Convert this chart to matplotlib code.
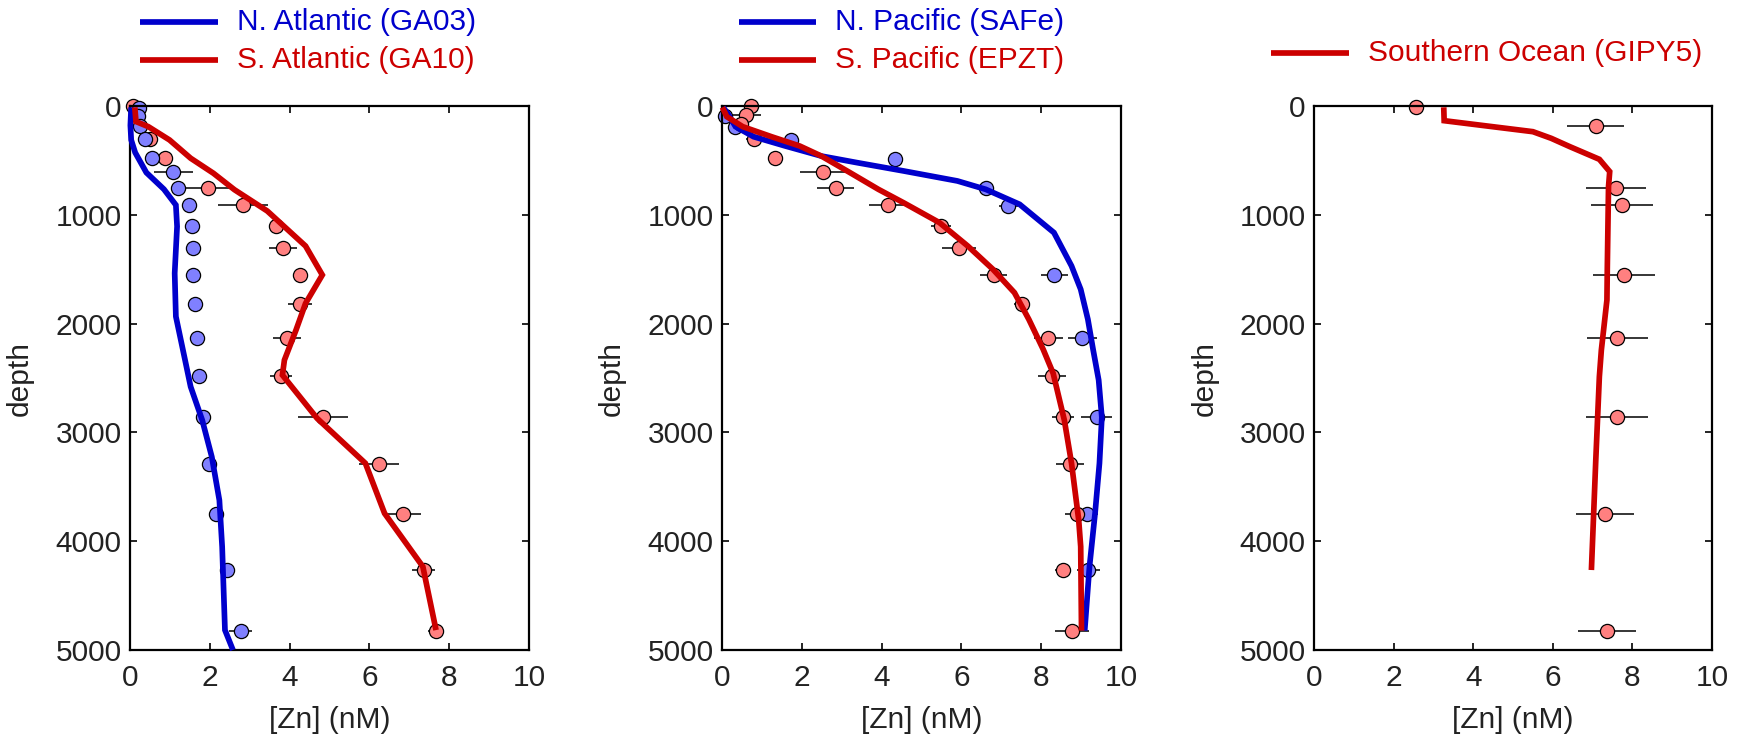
import numpy as np
import matplotlib
matplotlib.use("Agg")
import matplotlib.pyplot as plt
from matplotlib.lines import Line2D

plt.rcParams['font.family'] = ['Liberation Sans', 'DejaVu Sans']
plt.rcParams['font.size'] = 21.5

## Data
# N. Atlantic (GA03)
na_obs_depth = [20, 95, 180, 305, 480, 610, 750, 910, 1100, 1308, 1553, 1823, 2135, 2478, 2861, 3290, 3753, 4265, 4822]
na_obs_zn = [0.22, 0.21, 0.25, 0.37, 0.55, 1.09, 1.20, 1.49, 1.55, 1.57, 1.57, 1.64, 1.69, 1.74, 1.84, 1.98, 2.16, 2.44, 2.77]
na_obs_err = [0.05, 0.05, 0.05, 0.05, 0.05, 0.48, 0.05, 0.05, 0.05, 0.05, 0.05, 0.05, 0.05, 0.05, 0.05, 0.05, 0.05, 0.05, 0.3]
na_mod_depth = [12, 178, 312, 428, 612, 765, 910, 1107, 1537, 1935, 2335, 2580, 2887, 3224, 3623, 4052, 4817, 5000]
na_mod_zn = [0.03, 0.01, 0.03, 0.13, 0.41, 0.85, 1.15, 1.18, 1.12, 1.15, 1.38, 1.52, 1.81, 2.05, 2.24, 2.31, 2.38, 2.58]

# S. Atlantic (GA10)
sa_obs_depth = [0, 305, 480, 750, 910, 1100, 1308, 1553, 1823, 2135, 2478, 2861, 3290, 3753, 4265, 4822]
sa_obs_zn = [0.08, 0.50, 0.87, 1.95, 2.83, 3.66, 3.84, 4.26, 4.26, 3.94, 3.79, 4.83, 6.24, 6.85, 7.36, 7.67]
sa_obs_err = [0.05, 0.1, 0.1, 0.65, 0.62, 0.1, 0.35, 0.1, 0.31, 0.35, 0.27, 0.63, 0.51, 0.44, 0.29, 0.2]
sa_mod_depth = [12, 143, 190, 312, 480, 618, 770, 965, 1287, 1553, 1814, 2060, 2335, 2473, 2871, 3284, 3744, 4234, 4817]
sa_mod_zn = [0.12, 0.15, 0.46, 0.99, 1.52, 2.09, 2.62, 3.44, 4.40, 4.82, 4.40, 4.16, 3.87, 3.82, 4.69, 5.90, 6.38, 7.34, 7.67]

# N. Pacific (SAFe)
np_obs_depth = [90, 190, 312, 490, 750, 915, 1553, 2135, 2861, 3753, 4265]
np_obs_zn = [0.08, 0.32, 1.73, 4.33, 6.61, 7.18, 8.33, 9.03, 9.39, 9.14, 9.18]
np_obs_err = [0.05, 0.05, 0.05, 0.05, 0.05, 0.25, 0.34, 0.36, 0.39, 0.29, 0.29]
np_mod_depth = [12, 80, 190, 282, 368, 460, 521, 597, 689, 766, 904, 1164, 1470, 1685, 1961, 2237, 2518, 2861, 3284, 3744, 4234, 4822]
np_mod_zn = [0.03, 0.16, 0.34, 0.79, 1.59, 2.49, 3.39, 4.55, 5.90, 6.61, 7.46, 8.32, 8.76, 8.99, 9.17, 9.30, 9.44, 9.52, 9.46, 9.35, 9.21, 9.09]

# S. Pacific (EPZT)
sp_obs_depth = [0, 83, 165, 305, 480, 610, 750, 910, 1100, 1308, 1553, 1823, 2135, 2478, 2861, 3290, 3753, 4265, 4822]
sp_obs_zn = [0.73, 0.61, 0.48, 0.79, 1.33, 2.54, 2.85, 4.17, 5.49, 5.94, 6.81, 7.51, 8.18, 8.27, 8.54, 8.72, 8.90, 8.54, 8.78]
sp_obs_err = [0.33, 0.36, 0.1, 0.2, 0.1, 0.58, 0.46, 0.49, 0.25, 0.43, 0.34, 0.2, 0.36, 0.34, 0.27, 0.35, 0.3, 0.2, 0.43]
sp_mod_depth = [12, 98, 190, 282, 368, 460, 613, 766, 889, 1072, 1287, 1501, 1716, 1961, 2237, 2457, 2887, 3284, 3805, 4050, 4822]
sp_mod_zn = [0.01, 0.12, 0.52, 1.24, 1.95, 2.49, 3.21, 3.92, 4.55, 5.45, 6.16, 6.79, 7.33, 7.69, 8.05, 8.30, 8.58, 8.76, 8.94, 8.99, 9.01]

# Southern Ocean (GIPY5)
so_obs_depth = [6, 181, 757, 910, 1553, 2135, 2861, 3753, 4822]
so_obs_zn = [2.56, 7.08, 7.59, 7.73, 7.79, 7.62, 7.61, 7.31, 7.36]
so_obs_err = [0.0, 0.72, 0.76, 0.78, 0.78, 0.77, 0.77, 0.73, 0.73]
so_mod_depth = [12, 135, 236, 297, 374, 490, 603, 741, 1476, 1783, 2243, 2488, 3254, 4265]
so_mod_zn = [3.26, 3.27, 5.50, 5.96, 6.43, 7.17, 7.43, 7.40, 7.37, 7.36, 7.22, 7.17, 7.08, 6.97]

xticks = [0, 2, 4, 6, 8, 10]
yticks = [0, 1000, 2000, 3000, 4000, 5000]

## Style
BLUE = '#0000cc'
RED = '#cc0000'
BLUE_FILL = '#8080ff'
RED_FILL = '#ff8080'
W, H = 1739, 735

fig = plt.figure(figsize=(W / 100, H / 100), dpi=100)


def make_axes(x0, x1, y0=106, y1=650):
    ax = fig.add_axes([x0 / W, 1 - y1 / H, (x1 - x0) / W, (y1 - y0) / H])
    ax.set_xlim(0, 10)
    ax.set_ylim(5000, 0)
    ax.set_xticks(xticks)
    ax.set_yticks(yticks)
    ax.tick_params(direction='in', top=True, right=True, length=5, width=1.2,
                   colors='black', labelcolor='#222222', labelsize=21.5)
    ax.tick_params(axis='x', pad=10)
    ax.tick_params(axis='y', pad=6)
    for s in ax.spines.values():
        s.set_linewidth(1.6)
    ax.set_xlabel('[Zn] (nM)', color='#222222')
    ax.set_ylabel('depth', color='#222222')
    ax.xaxis.set_label_coords(0.5, -0.103)
    ax.yaxis.set_label_coords(-0.24, 0.5)
    return ax


def dots(ax, zn, depth, err, fill):
    ax.errorbar(zn, depth, xerr=err, fmt='o', ms=10.2, mfc=fill, mec='black', mew=0.9,
                ecolor='black', elinewidth=1.1, capsize=0, zorder=2)


def model(ax, zn, depth, color):
    ax.plot(zn, depth, color=color, lw=4.1, solid_joinstyle='miter',
            solid_capstyle='butt', zorder=3)


def legend_entry(x0, x1, y, label, color):
    fig.add_artist(Line2D([x0 / W, x1 / W], [1 - y / H, 1 - y / H], color=color, lw=4.1,
                          solid_capstyle='butt'))
    fig.text((x1 + 19) / W, 1 - y / H, label, color=color, va='center', ha='left', fontsize=21.5)


# Atlantic
ax1 = make_axes(130, 529)
dots(ax1, sa_obs_zn, sa_obs_depth, sa_obs_err, RED_FILL)
dots(ax1, na_obs_zn, na_obs_depth, na_obs_err, BLUE_FILL)
model(ax1, na_mod_zn, na_mod_depth, BLUE)
model(ax1, sa_mod_zn, sa_mod_depth, RED)
legend_entry(140, 218, 22, 'N. Atlantic (GA03)', BLUE)
legend_entry(140, 218, 60, 'S. Atlantic (GA10)', RED)

# Pacific
ax2 = make_axes(722, 1121)
dots(ax2, np_obs_zn, np_obs_depth, np_obs_err, BLUE_FILL)
dots(ax2, sp_obs_zn, sp_obs_depth, sp_obs_err, RED_FILL)
model(ax2, np_mod_zn, np_mod_depth, BLUE)
model(ax2, sp_mod_zn, sp_mod_depth, RED)
legend_entry(739, 816, 22, 'N. Pacific (SAFe)', BLUE)
legend_entry(739, 816, 60, 'S. Pacific (EPZT)', RED)

# Southern Ocean
ax3 = make_axes(1314, 1712)
dots(ax3, so_obs_zn, so_obs_depth, so_obs_err, RED_FILL)
model(ax3, so_mod_zn, so_mod_depth, RED)
legend_entry(1271, 1349, 53, 'Southern Ocean (GIPY5)', RED)

# let markers at the axis edges spill over like in the original
for ax in (ax1, ax2, ax3):
    for a in ax.get_children():
        if isinstance(a, Line2D):
            a.set_clip_on(False)

fig.savefig('out.png', dpi=100)
